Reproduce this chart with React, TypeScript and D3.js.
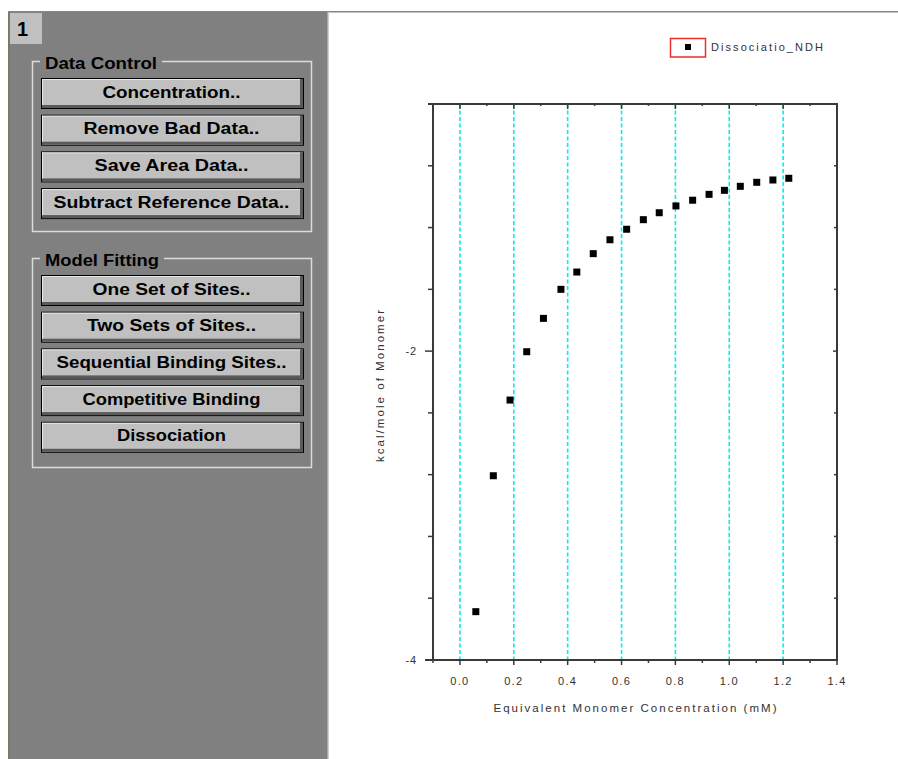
import React from "react";
import * as d3 from "d3";

// ---- data ----
const concentration = [0.059, 0.124, 0.186, 0.248, 0.31, 0.375, 0.434, 0.495, 0.557, 0.619, 0.681, 0.74, 0.802, 0.864, 0.925, 0.982, 1.041, 1.102, 1.162, 1.221];
const enthalpy = [-3.687, -2.807, -2.317, -2.004, -1.788, -1.6, -1.488, -1.369, -1.279, -1.211, -1.149, -1.104, -1.06, -1.023, -0.985, -0.959, -0.933, -0.907, -0.892, -0.881];
const xMajorTicks = [0.0, 0.2, 0.4, 0.6, 0.8, 1.0, 1.2, 1.4];
const xMinorTicks = [-0.1, 0.1, 0.3, 0.5, 0.7, 0.9, 1.1, 1.3];
const yMajorTicks = [-4, -2];
const yMinorTicks = [-3.6, -3.2, -2.8, -2.4, -1.6, -1.2, -0.8];
const seriesName = "Dissociatio_NDH";
const xTitle = "Equivalent Monomer Concentration (mM)";
const yTitle = "kcal/mole of Monomer";
const dataControlButtons = ["Concentration..", "Remove Bad Data..", "Save Area Data..", "Subtract Reference Data.."];
const modelFittingButtons = ["One Set of Sites..", "Two Sets of Sites..", "Sequential Binding Sites..", "Competitive Binding", "Dissociation"];

// layout-only: rendered text widths of button labels
const labelWidths: Record<string, number> = {
  "Concentration..": 138,
  "Remove Bad Data..": 176,
  "Save Area Data..": 154,
  "Subtract Reference Data..": 236,
  "One Set of Sites..": 158,
  "Two Sets of Sites..": 169,
  "Sequential Binding Sites..": 230,
  "Competitive Binding": 178,
  "Dissociation": 109,
};

const W = 898;
const H = 759;
const plot = { left: 433, right: 837, top: 104, bottom: 660 };
const AXIS = "#3a3a3a";
const TXT = "#333";
const FONT = "'Liberation Sans', Arial, sans-serif";
const BFONT = "'Liberation Sans', Arial, sans-serif";

function Button({ x, y, w, h, label }: { x: number; y: number; w: number; h: number; label: string }) {
  return (
    <g>
      <rect x={x} y={y} width={w} height={h} fill="#000" />
      <rect x={x + 1} y={y + 1} width={w - 2} height={h - 2} fill="#c0c0c0" />
      <rect x={x + 1} y={y + h - 4} width={w - 2} height={3} fill="#5a5a5a" />
      <rect x={x + w - 4} y={y + 1} width={3} height={h - 2} fill="#5a5a5a" />
      <rect x={x + 1} y={y + 1} width={w - 5} height={1} fill="#e8e8e8" />
      <rect x={x + 1} y={y + 1} width={1} height={h - 5} fill="#e8e8e8" />
      <text
        x={x + w / 2 - 1}
        y={y + h / 2 + 4}
        textAnchor="middle"
        fontFamily={BFONT}
        fontWeight="bold"
        fontSize={16}
        fill="#000"
        textLength={labelWidths[label]}
        lengthAdjust="spacingAndGlyphs"
      >
        {label}
      </text>
    </g>
  );
}

function Group({ y, h, title, titleW, buttons, firstBtnY }: { y: number; h: number; title: string; titleW: number; buttons: string[]; firstBtnY: number }) {
  return (
    <g>
      <rect x={32.5} y={y + 0.5} width={279} height={h} fill="none" stroke="#dcdcdc" strokeWidth={1.5} />
      <rect x={40} y={y - 8} width={titleW + 10} height={16} fill="#808080" />
      <text x={45} y={y + 8} fontFamily={BFONT} fontWeight="bold" fontSize={16} fill="#000" textLength={titleW} lengthAdjust="spacingAndGlyphs">
        {title}
      </text>
      {buttons.map((b, i) => (
        <Button key={b} x={41} y={firstBtnY + i * 36.7} w={263} h={31} label={b} />
      ))}
    </g>
  );
}

export default function App() {
  const x = d3.scaleLinear().domain([-0.1, 1.4]).range([plot.left, plot.right]);
  const y = d3.scaleLinear().domain([-4, -0.4]).range([plot.bottom, plot.top]);
  const fmtX = d3.format(".1f");
  const pts = concentration.map((c, i) => ({ c, e: enthalpy[i] }));

  return (
    <svg width={W} height={H} style={{ position: "absolute", left: 0, top: 0 }}>
      <rect x={0} y={0} width={W} height={H} fill="#fff" />
      {/* window top line */}
      <rect x={8} y={11} width={890} height={1.5} fill="#8a8878" />
      {/* side panel */}
      <rect x={8} y={12} width={320} height={H - 12} fill="#808080" />
      <rect x={8} y={12} width={1.5} height={H - 12} fill="#7a7668" />
      <rect x={327.5} y={12} width={1.5} height={H - 12} fill="#cfcfcf" />
      <rect x={10} y={13} width={32} height={31} fill="#c0c0c0" />
      <text x={17} y={36} fontFamily={BFONT} fontWeight="bold" fontSize={20} fill="#000">1</text>

      <Group y={61} h={170} title="Data Control" titleW={112} buttons={dataControlButtons} firstBtnY={78} />
      <Group y={258} h={209} title="Model Fitting" titleW={114} buttons={modelFittingButtons} firstBtnY={275} />

      {/* gridlines */}
      {xMajorTicks.filter((t) => t < 1.35).map((t) => (
        <line key={"g" + t} x1={x(t)} x2={x(t)} y1={plot.top} y2={plot.bottom} stroke="#00eeee" strokeWidth={1.6} strokeDasharray="4,2.5" />
      ))}

      {/* axes frame */}
      <line x1={plot.left - 5} x2={plot.right + 1} y1={plot.top} y2={plot.top} stroke={AXIS} strokeWidth={2} />
      <line x1={plot.left - 8} x2={plot.right + 1} y1={plot.bottom} y2={plot.bottom} stroke={AXIS} strokeWidth={2} />
      <line x1={plot.left} x2={plot.left} y1={plot.top - 1} y2={plot.bottom + 1} stroke={AXIS} strokeWidth={2} />
      <line x1={plot.right} x2={plot.right} y1={plot.top - 1} y2={plot.bottom + 1} stroke={AXIS} strokeWidth={2} />

      {/* x ticks */}
      {xMajorTicks.map((t) => (
        <g key={"xt" + t}>
          <line x1={x(t)} x2={x(t)} y1={plot.bottom} y2={plot.bottom + 5} stroke={AXIS} strokeWidth={1.5} />
          <line x1={x(t)} x2={x(t)} y1={plot.top} y2={plot.top + 5} stroke={AXIS} strokeWidth={1.5} />
          <text x={x(t)} y={685} textAnchor="middle" fontFamily={FONT} fontSize={11} letterSpacing={1.3} fill={TXT}>
            {fmtX(t)}
          </text>
        </g>
      ))}
      {xMinorTicks.map((t) => (
        <g key={"xm" + t}>
          <line x1={x(t)} x2={x(t)} y1={plot.bottom} y2={plot.bottom + 3} stroke={AXIS} strokeWidth={1.5} />
          <line x1={x(t)} x2={x(t)} y1={plot.top} y2={plot.top + 2} stroke={AXIS} strokeWidth={1.5} />
        </g>
      ))}

      {/* y ticks */}
      {yMajorTicks.map((t) => (
        <g key={"yt" + t}>
          <line x1={plot.left - 8} x2={plot.left} y1={y(t)} y2={y(t)} stroke={AXIS} strokeWidth={1.5} />
          <line x1={plot.right - 4} x2={plot.right} y1={y(t)} y2={y(t)} stroke={AXIS} strokeWidth={1.5} />
          <text x={417} y={y(t) + 4} textAnchor="end" fontFamily={FONT} fontSize={11} letterSpacing={0.8} fill={TXT}>
            {String(t)}
          </text>
        </g>
      ))}
      {yMinorTicks.map((t) => (
        <g key={"ym" + t}>
          <line x1={plot.left - 5} x2={plot.left} y1={y(t)} y2={y(t)} stroke={AXIS} strokeWidth={1.5} />
          <line x1={plot.right - 3} x2={plot.right} y1={y(t)} y2={y(t)} stroke={AXIS} strokeWidth={1.5} />
        </g>
      ))}

      {/* data points */}
      {pts.map((p, i) => (
        <rect key={"p" + i} x={x(p.c) - 3.5} y={y(p.e) - 3.5} width={7} height={7} fill="#000" />
      ))}

      {/* axis titles */}
      <text x={635} y={712} textAnchor="middle" fontFamily={FONT} fontSize={11.5} fill={TXT} textLength={283} lengthAdjust="spacing">
        {xTitle}
      </text>
      <text
        transform={`translate(384,386) rotate(-90)`}
        textAnchor="middle"
        fontFamily={FONT}
        fontSize={11.5}
        fill={TXT}
        textLength={152}
        lengthAdjust="spacing"
      >
        {yTitle}
      </text>

      {/* legend */}
      <rect x={670.5} y={38.5} width={35} height={18.5} fill="none" stroke="#e83030" strokeWidth={1.5} />
      <rect x={685} y={44} width={6} height={6} fill="#000" />
      <text x={711} y={51} fontFamily={FONT} fontSize={11} fill={TXT} textLength={112} lengthAdjust="spacing">
        {seriesName}
      </text>
    </svg>
  );
}
